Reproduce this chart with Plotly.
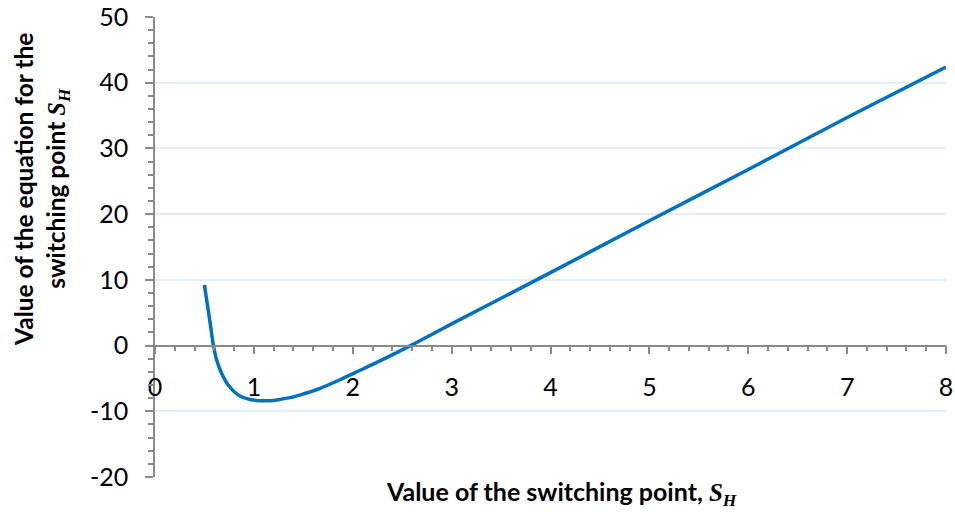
import plotly.graph_objects as go

# Switching-point equation evaluated over S_H
s_h = [0.50, 0.53, 0.56, 0.59, 0.62, 0.67, 0.74, 0.84, 0.96, 1.10, 1.20, 1.26,
       1.40, 1.47, 1.67, 1.87, 2.07, 2.28, 2.48, 2.60, 2.85, 3.00, 4.00, 5.00,
       6.00, 7.00, 8.00]
eq_value = [9.2, 6.2, 3.2, 0.1, -2.0, -4.1, -6.0, -7.5, -8.2, -8.4, -8.35, -8.2,
            -7.8, -7.5, -6.5, -5.2, -3.8, -2.3, -0.8, 0.1, 2.1, 3.3, 11.1, 19.0,
            26.8, 34.7, 42.4]

x_ticks = [0, 1, 2, 3, 4, 5, 6, 7, 8]
y_ticks = [-20, -10, 0, 10, 20, 30, 40, 50]

FONT = "Lato"
AXIS_GREY = "#8a8a8a"
GRID = "#e4eef8"

fig = go.Figure()
fig.add_trace(go.Scatter(
    x=s_h, y=eq_value, mode="lines",
    line=dict(color="#0070C0", width=3.5, shape="spline", smoothing=1.0),
    showlegend=False, hoverinfo="skip",
))

y_min, y_max = -20, 50

fig.update_layout(
    width=955, height=512,
    margin=dict(l=155, r=9, t=17, b=35, autoexpand=False),
    paper_bgcolor="white", plot_bgcolor="white",
    font=dict(family=FONT, size=25, color="#000000"),
    xaxis=dict(
        range=[0, 8], tickvals=x_ticks, ticktext=[str(v) for v in x_ticks],
        anchor="free", position=(0 - y_min) / (y_max - y_min),
        showline=True, linecolor=AXIS_GREY, linewidth=1.5,
        ticks="outside", ticklen=8, tickwidth=1.5, tickcolor=AXIS_GREY,
        minor=dict(dtick=0.2, ticks="outside", ticklen=5, tickwidth=1.5,
                   tickcolor=AXIS_GREY, showgrid=False),
        showgrid=False, zeroline=False,
        ticklabelstandoff=12,
        tickfont=dict(family=FONT, size=25),
    ),
    yaxis=dict(
        range=[y_min, y_max], tickvals=y_ticks, ticktext=[str(v) for v in y_ticks],
        showline=True, linecolor=AXIS_GREY, linewidth=1.5,
        ticks="outside", ticklen=8, tickwidth=1.5, tickcolor=AXIS_GREY,
        minor=dict(dtick=2, ticks="outside", ticklen=5, tickwidth=1.5,
                   tickcolor=AXIS_GREY, showgrid=False),
        showgrid=True, gridcolor=GRID, gridwidth=1.5,
        zeroline=False,
        ticklabelstandoff=12,
        tickfont=dict(family=FONT, size=25),
    ),
)

sub = ("<span style=\"font-family:'Liberation Serif'\"><i>S<sub>H</sub></i></span>")

fig.add_annotation(
    text="<b>Value of the switching point, " + sub + "</b>",
    xref="paper", yref="paper", x=0.515, y=0, yshift=3,
    xanchor="center", yanchor="top", showarrow=False,
    font=dict(family=FONT, size=25, color="#000000"),
)
fig.add_annotation(
    text="<b>Value of the equation for the<br>switching point " + sub + "</b>",
    xref="paper", yref="paper", x=0, xshift=-113, y=0.624,
    xanchor="center", yanchor="middle", textangle=-90, showarrow=False,
    font=dict(family=FONT, size=24.5, color="#000000"),
)

fig.write_html("out.html")
